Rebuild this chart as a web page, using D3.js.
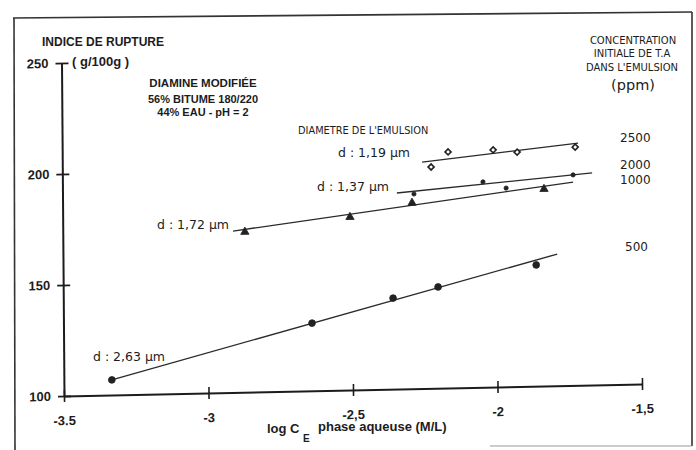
<!DOCTYPE html>
<html>
<head>
<meta charset="utf-8">
<script src="https://cdn.jsdelivr.net/npm/d3@7"></script>
<style>
    body { margin: 0; background: #fff; }
    svg { display: block; }
</style>
</head>
<body>
<div id="chart"></div>
<script>
// values
let xTicks = [-3.5, -3, -2.5, -2, -1.5];
let xTickLabels = ["-3.5", "-3", "-2,5", "-2", "-1,5"];
let yTicks = [100, 150, 200, 250];

let concentrations = ["2500", "2000", "1000", "500"];
let diameters = ["d : 1,19 µm", "d : 1,37 µm", "d : 1,72 µm", "d : 2,63 µm"];

// measured points [log CE, indice de rupture]
let points2500 = [[-2.224, 199.7], [-2.165, 206.3], [-2.009, 206.8], [-1.926, 205.6], [-1.725, 207.3]];
let points2000 = [[-2.284, 187.7], [-2.045, 192.5], [-1.965, 189.5], [-1.733, 194.8]];
let points1000 = [[-2.870, 172.2], [-2.506, 177.9], [-2.291, 183.7], [-1.834, 188.7]];
let points500 = [[-3.334, 106.8], [-2.640, 130.5], [-2.359, 141.0], [-2.203, 145.6], [-1.863, 154.6]];

// straight lines drawn through each series (start, end)
let fit2500 = [[-2.255, 202.0], [-1.715, 209.1]];
let fit2000 = [[-2.343, 188.3], [-1.667, 195.5]];
let fit1000 = [[-2.911, 172.7], [-1.733, 191.6]];
let fit500 = [[-3.334, 106.8], [-1.790, 159.3]];

let width = 696, height = 450;
let boldFont = "'Liberation Sans', Arial, sans-serif";
let regFont = "'DejaVu Sans', sans-serif";
let ink = "#1c1c1c";

let svg = d3.select("#chart")
    .append("svg")
    .attr("width", width)
    .attr("height", height);

// frame of the scanned page
let frame = svg.append("g").attr("stroke", "#333").attr("fill", "none");
frame.append("line").attr("x1", 13).attr("y1", 18).attr("x2", 692).attr("y2", 12).attr("stroke-width", 1.6);
frame.append("line").attr("x1", 14).attr("y1", 18).attr("x2", 15).attr("y2", 450).attr("stroke-width", 1.6);
frame.append("line").attr("x1", 692).attr("y1", 12).attr("x2", 692).attr("y2", 446).attr("stroke-width", 1.6);
frame.append("line").attr("x1", 490).attr("y1", 446).attr("x2", 692).attr("y2", 446)
    .attr("stroke", "#999").attr("stroke-width", 1.2);

// the scan is slightly tilted, so the plot area is sheared a little
let plot = svg.append("g")
    .attr("transform", "translate(64,396) matrix(1,-0.0208,0.0075,1,0,0)");

let x = d3.scaleLinear().domain([-3.5, -1.5]).range([0, 578]);
let y = d3.scaleLinear().domain([100, 250]).range([0, -333]);

// x axis
let xAxis = plot.append("g")
    .call(d3.axisBottom(x).tickValues(xTicks)
        .tickFormat(function(d, i) { return xTickLabels[i]; })
        .tickSizeOuter(0));
xAxis.select(".domain").attr("stroke", ink).attr("stroke-width", 2);
xAxis.selectAll(".tick line").attr("y1", -6).attr("y2", 6).attr("stroke", ink).attr("stroke-width", 1.6);
xAxis.selectAll(".tick text")
    .attr("y", 20)
    .style("font-family", boldFont).style("font-weight", "bold").style("font-size", "13px")
    .attr("fill", ink);

// y axis
let yAxis = plot.append("g")
    .call(d3.axisLeft(y).tickValues(yTicks).tickSizeOuter(0));
yAxis.select(".domain").attr("stroke", ink).attr("stroke-width", 2);
yAxis.selectAll(".tick line").attr("x1", -6).attr("x2", 7).attr("stroke", ink).attr("stroke-width", 1.6);
yAxis.selectAll(".tick text")
    .attr("x", -13)
    .style("font-family", boldFont).style("font-weight", "bold").style("font-size", "13px")
    .attr("fill", ink);

// fitted lines
let line = d3.line()
    .x(function(d) { return x(d[0]); })
    .y(function(d) { return y(d[1]); });

[fit2500, fit2000, fit1000, fit500].forEach(function(f) {
    plot.append("path")
        .attr("d", line(f))
        .attr("fill", "none")
        .attr("stroke", "#2a2a2a")
        .attr("stroke-width", 1.3);
});

// markers (diamond = square turned by 45 degrees)
let series = [
    {pts: points2500, type: d3.symbolSquare, size: 18, open: true, rot: 45},
    {pts: points2000, type: d3.symbolCircle, size: 14, open: false, rot: 0},
    {pts: points1000, type: d3.symbolTriangle, size: 30, open: false, rot: 0},
    {pts: points500, type: d3.symbolCircle, size: 36, open: false, rot: 0}
];

series.forEach(function(s) {
    plot.append("g")
        .selectAll("path")
        .data(s.pts)
        .enter().append("path")
        .attr("transform", function(d) {
            return "translate(" + x(d[0]) + "," + y(d[1]) + ") rotate(" + s.rot + ")";
        })
        .attr("d", d3.symbol().type(s.type).size(s.size))
        .attr("fill", s.open ? "#fff" : "#222")
        .attr("stroke", "#222")
        .attr("stroke-width", s.open ? 1.6 : 0.8);
});

// texts
function addText(txt, tx, ty, size, bold, anchor) {
    return svg.append("text")
        .attr("x", tx)
        .attr("y", ty)
        .attr("text-anchor", anchor || "start")
        .style("font-family", bold ? boldFont : regFont)
        .style("font-weight", bold ? "bold" : "normal")
        .style("font-size", size + "px")
        .attr("fill", ink)
        .text(txt);
}

addText("INDICE DE RUPTURE", 42, 46, 12, true);
addText("( g/100g )", 72, 66, 13, true);

addText("DIAMINE MODIFIÉE", 203, 87, 11.5, true, "middle");
addText("56% BITUME 180/220", 203, 103, 11, true, "middle");
addText("44% EAU - pH = 2", 203, 116, 11, true, "middle");

addText("DIAMETRE DE L'EMULSION", 298, 134, 9.8, false);

let diamPos = [[338, 157], [317, 191], [157, 229], [93, 361]];
diameters.forEach(function(d, i) {
    addText(d, diamPos[i][0], diamPos[i][1], 12.5, false);
});

addText("CONCENTRATION", 633, 44, 10, false, "middle");
addText("INITIALE DE T.A", 632, 57, 10, false, "middle");
addText("DANS L'EMULSION", 632, 71, 10, false, "middle");
addText("(ppm)", 633, 90, 14.5, false, "middle");

let concPos = [[620, 142], [620, 169], [620, 184], [625, 251]];
concentrations.forEach(function(c, i) {
    addText(c, concPos[i][0], concPos[i][1], 12, false);
});

// x axis title with subscript
addText("log C", 267, 433, 13, true);
addText("E", 303, 442, 10, true);
addText("phase aqueuse (M/L)", 318, 431, 13, true);
</script>
</body>
</html>
